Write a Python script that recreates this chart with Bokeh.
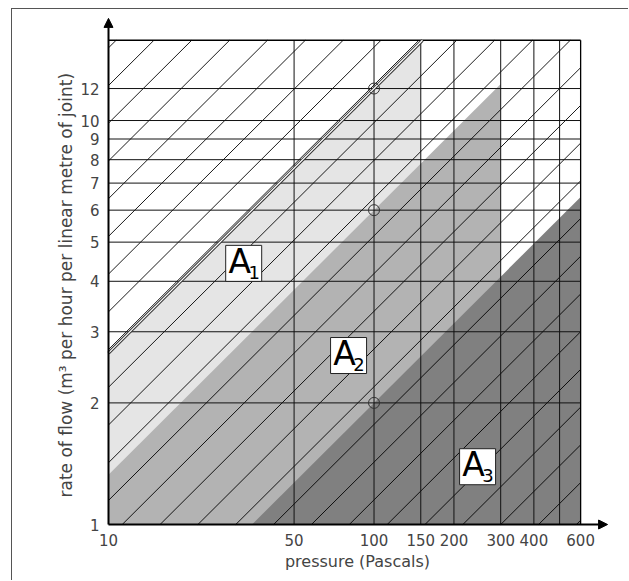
import numpy as np
from bokeh.plotting import figure
from bokeh.models import FixedTicker, Arrow, NormalHead, Range1d, Title
from bokeh.core.properties import value
from bokeh.embed import file_html
from bokeh.resources import INLINE

# ---------------- data ----------------
x_ticks = [10, 50, 100, 150, 200, 300, 400, 600]
x_tick_labels = ["10", "50", "100", "150", "200", "300", "400", "600"]
y_ticks = [1, 2, 3, 4, 5, 6, 7, 8, 9, 10, 12]
y_tick_labels = ["1", "2", "3", "4", "5", "6", "7", "8", "9", "10", "12"]
x_grid = [50, 100, 150, 200, 300, 400, 500]
y_grid = [2, 3, 4, 5, 6, 7, 8, 9, 10, 12]

p_min, p_max = 10, 600          # chart box, pressure (Pa)
q_min, q_max = 1, 15.8          # chart box, flow
p_arrow, q_arrow = 758, 17.9    # axis arrow tips
flow_exponent = 0.655           # Q ~ P^n

zone_subs = ["1", "2", "3"]
zone_flow_at_100 = [12, 6, 2]          # boundary flow at 100 Pa
zone_max_pressure = [150, 300, 600]    # pressure limit of each zone
zone_colors = ["#e5e5e5", "#b3b3b3", "#808080"]
label_pressure = [32.3, 80.2, 245.5]
label_flow = [4.43, 2.62, 1.39]

marker_pressure = [100, 100, 100]
marker_flow = [12, 6, 2]

# pressure at which each background guide line passes 1 m3/h
hatch_origins = [0.158, 0.2193, 0.3043, 0.4227, 0.5869, 0.8150, 1.1316, 1.5712,
                 2.1819, 3.0291, 4.2063, 5.8408, 8.1096, 11.262, 15.640, 21.716,
                 30.155, 41.86, 58.13, 80.72, 112.1, 155.6, 216.1, 300.1, 416.7,
                 578.5]

FONT = "DejaVu Sans"
TXT = "#444444"


def flow(q100, p):
    return q100 * (p / 100.0) ** flow_exponent


p = figure(width=617, height=572, x_axis_type="log", y_axis_type="log",
           x_range=Range1d(9.493, 791), y_range=Range1d(0.9664, 18.3),
           output_backend="svg", toolbar_location=None,
           min_border_left=90, min_border_right=17,
           min_border_top=5, min_border_bottom=51,
           margin=(9, 0, 0, 12))
p.styles = {"box-shadow": "-1px -1px 0px 0px #555555"}
p.outline_line_color = None
p.xgrid.visible = False
p.ygrid.visible = False
p.background_fill_color = "white"

# zones (drawn light -> dark)
for q100, pmax, col in zip(zone_flow_at_100, zone_max_pressure, zone_colors):
    pstart = max(p_min, 100.0 * (q_min / q100) ** (1.0 / flow_exponent))
    xs = [pstart, pstart, pmax, pmax]
    ys = [q_min, flow(q100, pstart), flow(q100, pmax), q_min]
    p.patch(xs, ys, fill_color=col, line_color=None)

# hatch guide lines
hx, hy = [], []
for x0 in hatch_origins:
    if x0 < p_min:
        ps, qs = p_min, (p_min / x0) ** flow_exponent
    else:
        ps, qs = x0, q_min
    if qs >= q_max or ps >= p_max:
        continue
    pend = min(p_max, x0 * q_max ** (1.0 / flow_exponent))
    hx.append([ps, pend])
    hy.append([qs, (pend / x0) ** flow_exponent])
p.multi_line(hx, hy, line_color="black", line_width=0.9)

# grid lines
gx = [[p_min, p_max] for _ in y_grid] + [[v, v] for v in x_grid]
gy = [[v, v] for v in y_grid] + [[q_min, q_max] for _ in x_grid]
p.multi_line(gx, gy, line_color="#111111", line_width=1)

# box top / right
p.multi_line([[p_min, p_max], [p_max, p_max]], [[q_max, q_max], [q_min, q_max]],
             line_color="black", line_width=1.3)

# A1 upper boundary (double line)
q1 = zone_flow_at_100[0]
pend1 = 100 * (q_max / q1) ** (1.0 / flow_exponent)
p.line([p_min, pend1], [flow(q1, p_min), q_max], line_color="#333333", line_width=3.2)
p.line([p_min, pend1], [flow(q1, p_min), q_max], line_color="white", line_width=1.2)

# markers
p.scatter(marker_pressure, marker_flow, marker="circle", size=11,
          fill_color=None, line_color="#333333", line_width=1)

# zone labels
p.rect(label_pressure, label_flow, width=36, height=36, width_units="screen",
       height_units="screen", fill_color="white", line_color="#222222", line_width=1)
p.text(label_pressure, label_flow, text=["A", "A", "A"], text_font=value(FONT),
       text_font_size="33px", text_align="center", text_baseline="middle",
       x_offset=-4, y_offset=-2, text_color="black")
p.text(label_pressure, label_flow, text=zone_subs, text_font=value(FONT),
       text_font_size="18px", text_align="center", text_baseline="middle",
       x_offset=10.5, y_offset=9, text_color="black")

# axes arrows
p.add_layout(Arrow(x_start=p_min, y_start=q_min, x_end=p_min, y_end=q_arrow,
                   line_width=2, line_color="black",
                   end=NormalHead(size=9, fill_color="black", line_color="black")))
p.add_layout(Arrow(x_start=p_min, y_start=q_min, x_end=p_arrow, y_end=q_min,
                   line_width=2, line_color="black",
                   end=NormalHead(size=9, fill_color="black", line_color="black")))

# axes
p.xaxis.ticker = FixedTicker(ticks=x_ticks, minor_ticks=[])
p.yaxis.ticker = FixedTicker(ticks=y_ticks, minor_ticks=[])
p.xaxis.major_label_overrides = {t: s for t, s in zip(x_ticks, x_tick_labels)}
p.yaxis.major_label_overrides = {t: s for t, s in zip(y_ticks, y_tick_labels)}
for ax in (p.xaxis, p.yaxis):
    ax.axis_line_color = None
    ax.major_tick_line_color = None
    ax.minor_tick_line_color = None
    ax.major_tick_out = 0
    ax.major_tick_in = 0
    ax.major_label_text_font = FONT
    ax.major_label_text_font_size = "15px"
    ax.major_label_text_color = TXT
    ax.axis_label_text_font = FONT
    ax.axis_label_text_font_size = "16px"
    ax.axis_label_text_font_style = "normal"
    ax.axis_label_text_color = TXT
p.xaxis.major_label_standoff = 3
p.yaxis.major_label_standoff = 3
p.xaxis.axis_label = "pressure (Pascals)"
p.xaxis.axis_label_standoff = 3

ytitle = Title(text="rate of flow (m\u00b3 per hour per linear metre of joint)",
               align="left", offset=33, standoff=3,
               text_font=FONT, text_font_size="17px", text_font_style="normal",
               text_color=TXT)
p.add_layout(ytitle, "left")

open("out.html", "w").write(file_html(p, INLINE))
